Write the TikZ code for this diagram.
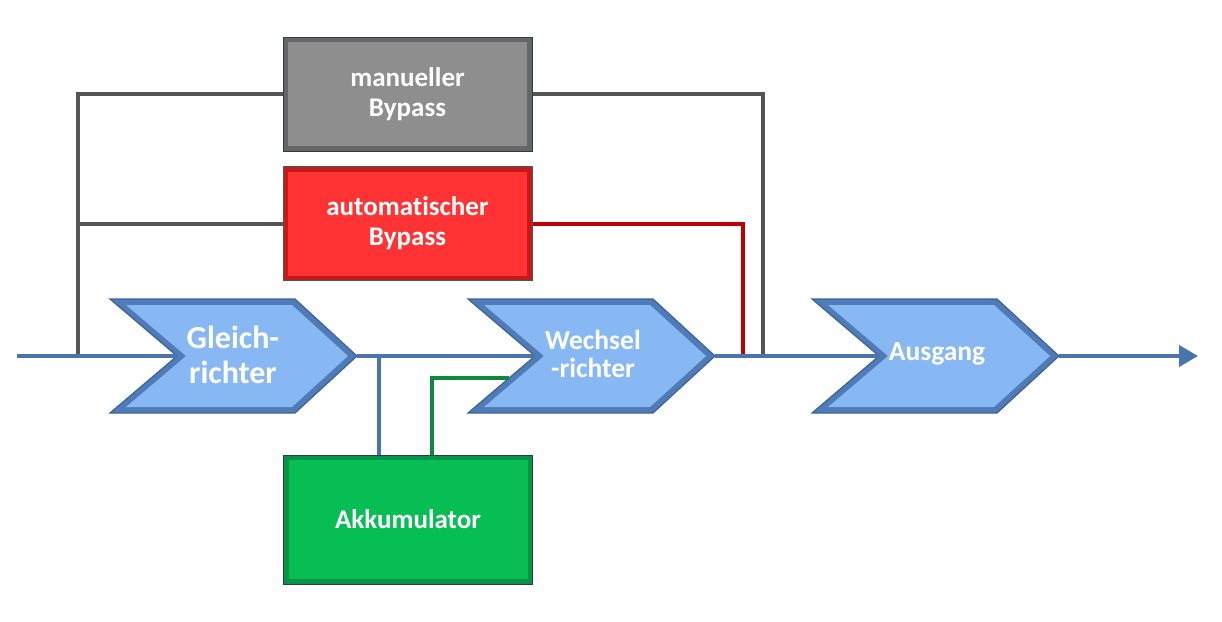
\documentclass[tikz,border=0pt]{standalone}
\usepackage{fontspec}
\setmainfont{Carlito}[Ligatures={NoCommon}]
\usetikzlibrary{arrows.meta}
\definecolor{chevlight}{HTML}{88B8F4}
\definecolor{chevdark}{HTML}{4F7BB6}
\definecolor{chevedge}{HTML}{3D6399}
\definecolor{mainblue}{HTML}{4A74AE}
\definecolor{graybox}{HTML}{8E8E8E}
\definecolor{graydark}{HTML}{666666}
\definecolor{grayline}{HTML}{555555}
\definecolor{redbox}{HTML}{FF3333}
\definecolor{reddark}{HTML}{C41A1A}
\definecolor{redline}{HTML}{C00000}
\definecolor{greenbox}{HTML}{07BE55}
\definecolor{greendark}{HTML}{059544}
\definecolor{greenline}{HTML}{0B8A3E}
\definecolor{navyedge}{HTML}{2B3A55}
\tikzset{
  chev/.pic={
    \fill[chevdark] (0,0) -- (185,0) -- (247,57) -- (185,114) -- (0,114) -- (67,57) -- cycle;
    \fill[chevlight] (16,6) -- (182,6) -- (238,57) -- (182,108) -- (16,108) -- (76,57) -- cycle;
    \draw[chevedge, line width=1.2pt, line join=miter] (0,0) -- (185,0) -- (247,57) -- (185,114) -- (0,114) -- (67,57) -- cycle;
    \coordinate (-in) at (67,57);
    \coordinate (-out) at (247,57);
    \coordinate (-bat) at (41,79);
  },
  chevtext/.style={text=white, font=\fontsize{27.5}{28}\selectfont\bfseries, align=center},
  boxnode/.style={minimum width=249pt, minimum height=114pt, inner sep=0pt, text=white,
    font=\fontsize{27}{30}\selectfont\bfseries, align=center, line width=1pt},
  bevel/.style={path picture={\fill[#1] ([shift={(5pt,-5pt)}]path picture bounding box.north west) rectangle ([shift={(-5pt,5pt)}]path picture bounding box.south east);}},
  mainline/.style={draw=mainblue, line width=4pt},
  grayconn/.style={draw=grayline, line width=4pt},
  redconn/.style={draw=redline, line width=4pt},
  greenconn/.style={draw=greenline, line width=4pt},
}
\begin{document}
\begin{tikzpicture}[x=1pt, y=-1pt]
\useasboundingbox (0,0) rectangle (1222,621);
% junction coordinates
\coordinate (start) at (17,356);
\coordinate (end) at (1198,356);
\coordinate (jL) at (78,356);
\coordinate (jB) at (379,356);
\coordinate (jRed) at (743,356);
\coordinate (jR) at (763,356);
\coordinate (akT) at (432,455);
% boxes (nodes first for names)
\node[boxnode, fill=graydark, bevel=graybox, draw=navyedge] (mb) at (407.5,94) {manueller\\Bypass};
\node[boxnode, fill=reddark, bevel=redbox, draw=grayline] (ab) at (407.5,223.5) {automatischer\\Bypass};
\node[boxnode, minimum height=129pt, fill=greendark, bevel=greenbox, draw=navyedge] (ak) at (408,519.5) {Akkumulator};
% connectors
\draw[grayconn] (mb.west) -| (jL);
\draw[grayconn] (ab.west) -| (jL);
\draw[grayconn] (mb.east) -| (jR);
\draw[redconn] (ab.east) -| (jRed);
\draw[mainline] (jB) -- (jB |- ak.north);
% redraw boxes on top of connector ends
\node[boxnode, fill=graydark, bevel=graybox, draw=navyedge] at (mb) {manueller\\Bypass};
\node[boxnode, fill=reddark, bevel=redbox, draw=grayline] at (ab) {automatischer\\Bypass};
\node[boxnode, minimum height=129pt, fill=greendark, bevel=greenbox, draw=navyedge] at (ak) {Akkumulator};
% chevrons
\pic (g) at (110,299) {chev};
\pic (w) at (468,299) {chev};
\pic (a) at (812,299) {chev};
\draw[greenconn] (akT) |- (w-bat);
\node[chevtext, font=\fontsize{32}{35}\selectfont\bfseries] (gt) at (233,355) {Gleich-\\richter};
\node[chevtext] (wt) at (593,354) {Wechsel\\-richter};
\node[chevtext] (at) at (937,354) {Ausgang};
% main line
\draw[mainline] (start) -- (g-in);
\draw[mainline] (g-out) -- (w-in);
\draw[mainline] (w-out) -- (a-in);
\draw[mainline, -{Triangle[length=19pt, width=21pt]}] (a-out) -- (end);
\end{tikzpicture}
\end{document}
